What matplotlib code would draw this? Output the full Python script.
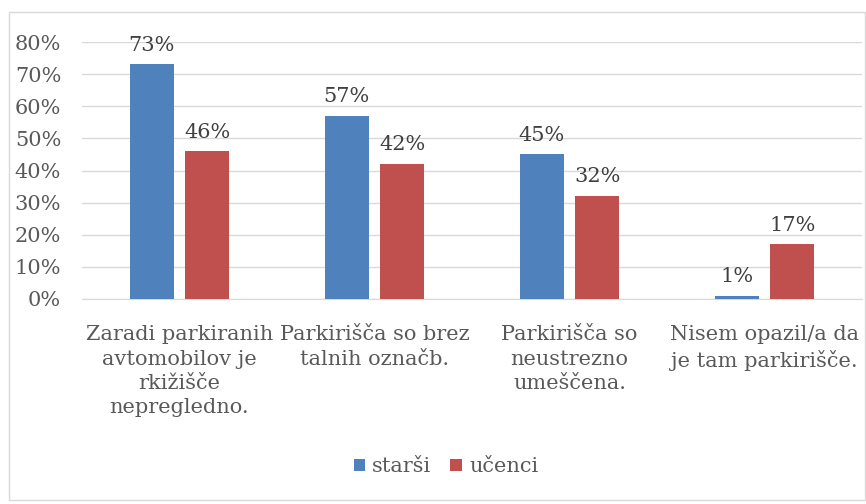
import matplotlib
matplotlib.use("Agg")
import matplotlib.pyplot as plt
import numpy as np
from matplotlib.patches import Rectangle

categories = ["Zaradi parkiranih\navtomobilov je\nrkižišče\nnepregledno.",
              "Parkirišča so brez\ntalnih označb.",
              "Parkirišča so\nneustrezno\numeščena.",
              "Nisem opazil/a da\nje tam parkirišče."]
series_names = ["starši", "učenci"]
starsi = [73, 57, 45, 1]
ucenci = [46, 42, 32, 17]
yticks = [0, 10, 20, 30, 40, 50, 60, 70, 80]

blue = "#4F81BD"
red = "#C0504D"
txt = "#595959"
plt.rcParams['font.family'] = ['DejaVu Serif']
fs = 15

fig = plt.figure(figsize=(8.66, 5.04), dpi=100)
fig.patches.append(Rectangle((9/866, 1 - 500/504), (865-9)/866, (500-12)/504,
                             transform=fig.transFigure, fill=False,
                             edgecolor="#D9D9D9", linewidth=1))
ax = fig.add_axes([82/866, 1 - 299/504, (862-82)/866, (299-42)/504])

x = np.arange(len(categories))
w = 0.225
gap = 0.03
b1 = ax.bar(x - w/2 - gap, starsi, w, color=blue, label=series_names[0], zorder=3)
b2 = ax.bar(x + w/2 + gap, ucenci, w, color=red, label=series_names[1], zorder=3)
for bars, vals in ((b1, starsi), (b2, ucenci)):
    for r, v in zip(bars, vals):
        ax.annotate(f"{v}%", (r.get_x() + r.get_width()/2, v), xytext=(0, 7),
                    textcoords="offset points", ha="center", va="bottom",
                    fontsize=fs, color="#404040")

ax.set_xlim(-0.5, len(categories) - 0.5)
ax.set_ylim(0, 80)
ax.set_yticks(yticks)
ax.set_yticklabels([f"{t}%" for t in yticks])
ax.yaxis.grid(True, color="#D9D9D9", linewidth=1, zorder=0)
ax.set_axisbelow(True)
ax.set_xticks(x)
ax.set_xticklabels(categories, fontsize=fs, color=txt, linespacing=1.35)
ax.tick_params(axis="y", length=0, labelsize=fs, labelcolor=txt, pad=15)
ax.tick_params(axis="x", length=0, pad=19)
for s in ["top", "right", "left"]:
    ax.spines[s].set_visible(False)
ax.spines["bottom"].set_color("#D9D9D9")

fig.legend(handles=[b1, b2], loc="center", bbox_to_anchor=(446/866, 1 - 467/504),
           ncol=2, frameon=False, fontsize=fs, labelcolor=txt,
           handlelength=0.55, handleheight=0.55, handletextpad=0.35, columnspacing=0.9)

fig.savefig("out.png", dpi=100)
